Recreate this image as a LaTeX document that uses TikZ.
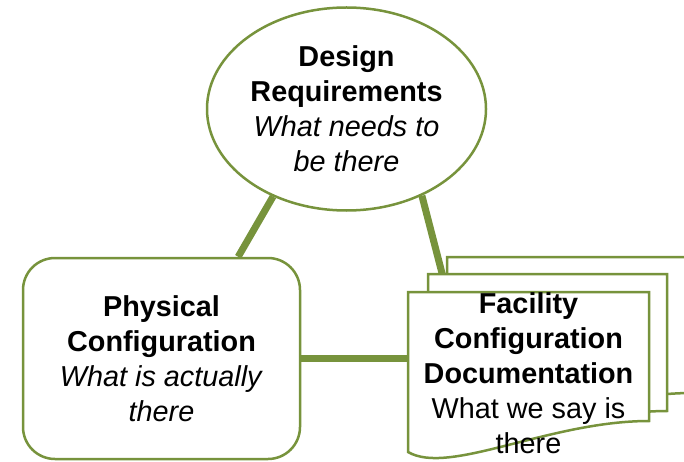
\documentclass[tikz,border=0pt]{standalone}
\usepackage{fontspec}
\setmainfont{Liberation Sans}
\usetikzlibrary{shapes.geometric, backgrounds}
\definecolor{leafgreen}{HTML}{77933C}

\begin{document}
\begin{tikzpicture}[x=1pt, y=-1pt,
  box/.style={draw=leafgreen, line width=2.5pt, fill=white, inner sep=0pt,
    align=center, font=\fontsize{28.8}{35}\selectfont},
  link/.style={draw=leafgreen, line width=7pt},
  page/.style={draw=leafgreen, line width=2.5pt, fill=white}]
  \useasboundingbox (0,0) rectangle (684,462);
  \clip (0,0) rectangle (684,462);
  % Design requirements
  \node[box, ellipse, minimum width=279pt, minimum height=203pt] (req) at (346.5,109)
    {\textbf{Design}\\\textbf{Requirements}\\\textit{What needs to}\\\textit{be there}};
  % Physical configuration
  \node[box, rounded corners=32pt, minimum width=277pt, minimum height=201pt] (phys) at (161.5,358.5)
    {\textbf{Physical}\\\textbf{Configuration}\\\textit{What is actually}\\\textit{there}};
  % Stack of pages, back to front
  \foreach \x/\y/\w/\h in {447/257/245/136, 428/274/239/137, 408/292/241/129}{
    \draw[page] (\x,\y+\h+31) -- (\x,\y) -- (\x+\w,\y) -- (\x+\w,\y+\h)
      .. controls (\x+0.585*\w,\y+\h) and (\x+0.17*\w,\y+\h+55) .. (\x,\y+\h+31) -- cycle;
  }
  % Facility configuration documentation
  \node[box, draw=none, fill=none, minimum width=241pt, minimum height=160pt] (front) at (528.5,373)
    {\textbf{Facility}\\\textbf{Configuration}\\\textbf{Documentation}\\What we say is\\there};
  % Links
  \begin{scope}[on background layer]
    \draw[link] (req.230) -- (phys.53);
    \draw[link] (req.311.5) -- (front.135.5);
    \draw[link] (phys.east) -- (phys.east -| front.west);
  \end{scope}
\end{tikzpicture}
\end{document}
